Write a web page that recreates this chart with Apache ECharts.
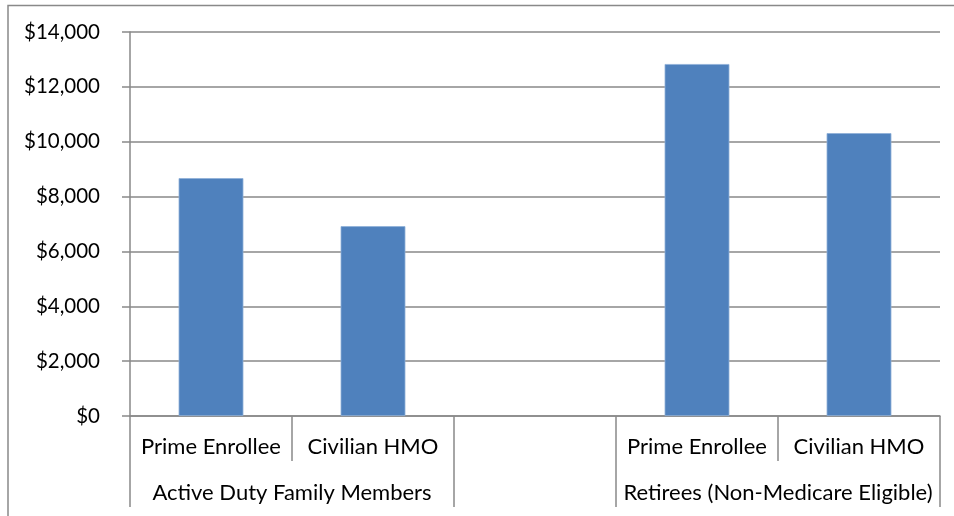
<!DOCTYPE html>
<html>
<head>
<meta charset="utf-8">
<script src="https://cdn.jsdelivr.net/npm/echarts@6/dist/echarts.min.js"></script>
<style>
html,body{margin:0;padding:0;background:#fff;}
#c{width:954px;height:516px;}
</style>
</head>
<body>
<div id="c"></div>
<script>
const categories = ['Prime Enrollee', 'Civilian HMO', '', 'Prime Enrollee', 'Civilian HMO'];
const values = [8673, 6921, null, 12832, 10314];
const groups = ['Active Duty Family Members', 'Retirees (Non-Medicare Eligible)'];
const groupCenters = [1, 4];
const groupBounds = [0, 2, 3, 5];
const yTicks = [0, 2000, 4000, 6000, 8000, 10000, 12000, 14000];

const FONT = 'Lato, "Open Sans", sans-serif';
const GRAY = '#898989';
const chart = echarts.init(document.getElementById('c'), null, {renderer: 'canvas'});
chart.setOption({
  animation: false,
  backgroundColor: '#fff',
  grid: {left: 130, right: 14, top: 32, bottom: 100, containLabel: false},
  xAxis: [{
    type: 'category',
    data: categories,
    position: 'bottom',
    axisLine: {show: true, lineStyle: {color: GRAY, width: 1.5}},
    axisTick: {show: true, length: 45, alignWithLabel: false, interval: 0, lineStyle: {color: GRAY, width: 1.5}},
    axisLabel: {interval: 0, color: '#000', fontFamily: FONT, fontSize: 22, margin: 20},
    splitLine: {show: false}
  }, {
    type: 'value',
    min: 0, max: 5,
    position: 'bottom',
    axisLine: {show: false},
    axisTick: {show: true, length: 91, customValues: groupBounds, lineStyle: {color: GRAY, width: 1.5}},
    axisLabel: {customValues: groupCenters, color: '#000', fontFamily: FONT, fontSize: 22, margin: 66,
      formatter: function (v) { return groups[groupCenters.indexOf(v)] || ''; }},
    splitLine: {show: false}
  }],
  yAxis: {
    type: 'value',
    min: 0, max: 14000, interval: 2000,
    axisLine: {show: true, lineStyle: {color: GRAY, width: 1.5}},
    axisTick: {show: true, length: 8, lineStyle: {color: GRAY, width: 1.5}},
    axisLabel: {color: '#000', fontFamily: FONT, fontSize: 20.5, margin: 30,
      formatter: function (v) { return '$' + v.toLocaleString('en-US'); }},
    splitLine: {show: true, lineStyle: {color: GRAY, width: 1.5}}
  },
  series: [{
    type: 'bar',
    xAxisIndex: 0,
    data: values,
    barWidth: '40%',
    itemStyle: {color: '#4f81bd', borderColor: '#8fb0d8', borderWidth: 0.8}
  }],
  graphic: [{
    type: 'polyline',
    shape: {points: [[8, 516], [8, 5.5], [954, 5.5]]},
    style: {stroke: GRAY, lineWidth: 1.5, fill: null}
  }]
});
</script>
</body>
</html>
